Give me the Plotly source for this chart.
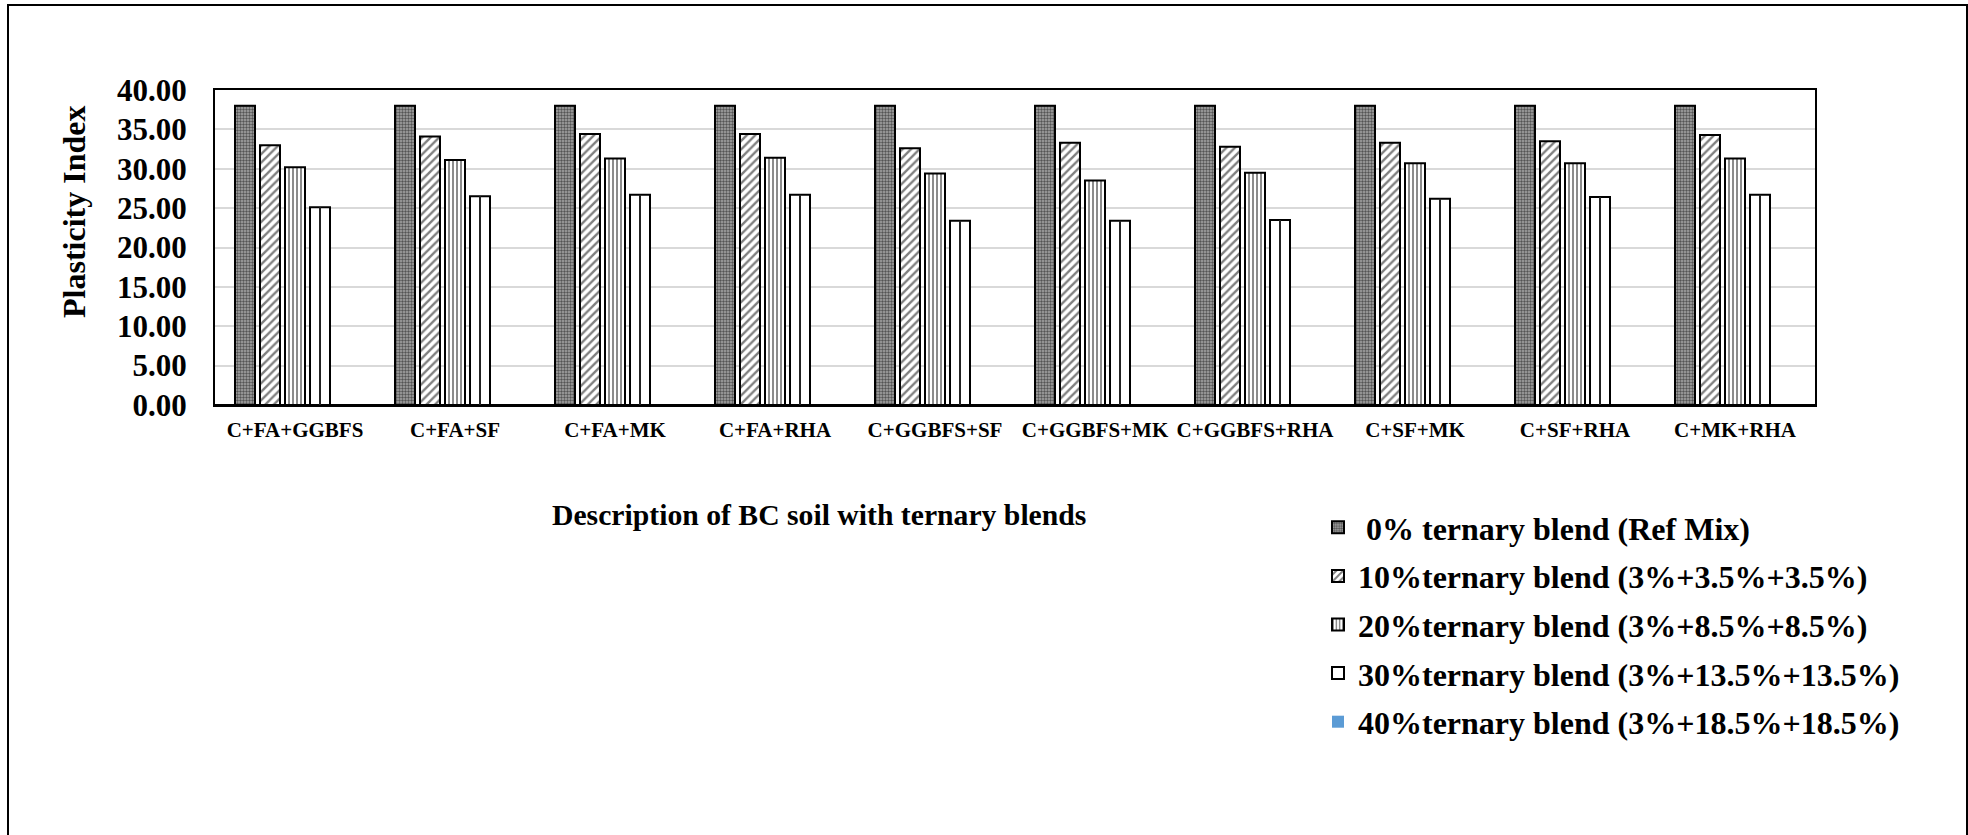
import plotly.graph_objects as go

# Soil mixes (binder combinations)
categories = ["C+FA+GGBFS", "C+FA+SF", "C+FA+MK", "C+FA+RHA", "C+GGBFS+SF",
              "C+GGBFS+MK", "C+GGBFS+RHA", "C+SF+MK", "C+SF+RHA", "C+MK+RHA"]

# Plasticity index for each blend level
pi_0 = [38.0, 38.0, 38.0, 38.0, 38.0, 38.0, 38.0, 38.0, 38.0, 38.0]
pi_10 = [33.0, 34.1, 34.4, 34.4, 32.6, 33.3, 32.8, 33.3, 33.5, 34.3]
pi_20 = [30.2, 31.1, 31.3, 31.4, 29.4, 28.5, 29.5, 30.7, 30.7, 31.3]
pi_30 = [25.1, 26.5, 26.7, 26.7, 23.4, 23.4, 23.5, 26.2, 26.4, 26.7]
pi_40 = [None, None, None, None, None, None, None, None, None, None]

series_names = [
    " 0% ternary blend (Ref Mix)",
    "10%ternary blend (3%+3.5%+3.5%)",
    "20%ternary blend (3%+8.5%+8.5%)",
    "30%ternary blend (3%+13.5%+13.5%)",
    "40%ternary blend (3%+18.5%+18.5%)",
]
series_values = [pi_0, pi_10, pi_20, pi_30, pi_40]

FONT = "Liberation Serif, Times New Roman, serif"

patterns = [
    dict(shape=".", size=3, solidity=0.5, fgcolor="black", bgcolor="#a8a8a8"),
    dict(shape="/", size=6, solidity=0.4, fgcolor="black", bgcolor="white"),
    dict(shape="|", size=4, solidity=0.45, fgcolor="black", bgcolor="white"),
    None,
    None,
]

fig = go.Figure()
for i, (name, vals, pat) in enumerate(zip(series_names, series_values, patterns)):
    marker = dict(color="white", line=dict(color="black", width=2))
    if pat is not None:
        marker["pattern"] = pat
    if i == 4:
        marker = dict(color="#5B9BD5", line=dict(width=0))
    bar = go.Bar(x=categories, y=vals, name=name, marker=marker,
                 legendgroup=f"g{i}")
    if i == 3:
        # centre stroke running down each bar of the 30% series
        bar.error_y = dict(type="data", visible=True, symmetric=False,
                           array=[0.0] * len(vals), arrayminus=list(vals),
                           color="#222222", thickness=2, width=0)
    fig.add_trace(bar)

# plot area in pixels: x 215..1815, y 90..405
W, H = 1968, 835
L, R, T, B = 215, 1815, 90, 405


def px_x(p):
    return (p - L) / (R - L)


def px_y(p):
    return (B - p) / (B - T)


fig.update_layout(
    width=W, height=H,
    margin=dict(l=L, r=W - R, t=T, b=H - B),
    paper_bgcolor="white", plot_bgcolor="white",
    barmode="group", bargap=0.21875, bargroupgap=0.2,
    font=dict(family=FONT, color="black", weight="bold"),
    showlegend=True,
    legend=dict(
        x=px_x(1318), y=px_y(500), xanchor="left", yanchor="top",
        font=dict(family=FONT, size=32, color="black", weight="bold"),
        bgcolor="rgba(0,0,0,0)", tracegroupgap=4, traceorder="grouped",
    ),
    xaxis=dict(
        showgrid=False, showline=True, linecolor="black", linewidth=2,
        mirror=True, ticks="outside", ticklen=5, tickcolor="rgba(0,0,0,0)",
        tickfont=dict(family=FONT, size=21, color="black", weight="bold"),
        fixedrange=True,
    ),
    yaxis=dict(
        range=[0, 40], dtick=5, tickformat=".2f",
        showgrid=True, gridcolor="#d9d9d9", gridwidth=2,
        showline=True, linecolor="black", linewidth=2, mirror=True,
        zeroline=True, zerolinecolor="black", zerolinewidth=3,
        ticks="outside", ticklen=20, tickcolor="rgba(0,0,0,0)",
        tickfont=dict(family=FONT, size=31, color="black", weight="bold"),
    ),
    annotations=[
        dict(text="Plasticity Index", textangle=-90, xref="paper", yref="paper",
             x=px_x(74), y=px_y(212), xanchor="center", yanchor="middle",
             showarrow=False,
             font=dict(family=FONT, size=32, color="black", weight="bold")),
        dict(text="Description of BC soil with ternary blends", xref="paper",
             yref="paper", x=px_x(819), y=px_y(515), xanchor="center",
             yanchor="middle", showarrow=False,
             font=dict(family=FONT, size=29.7, color="black", weight="bold")),
    ],
    shapes=[
        dict(type="rect", xref="paper", yref="paper",
             x0=px_x(8), x1=px_x(1967), y0=px_y(845), y1=px_y(5),
             line=dict(color="black", width=2), fillcolor="rgba(0,0,0,0)",
             layer="below"),
    ],
)

fig.write_html("out.html")
